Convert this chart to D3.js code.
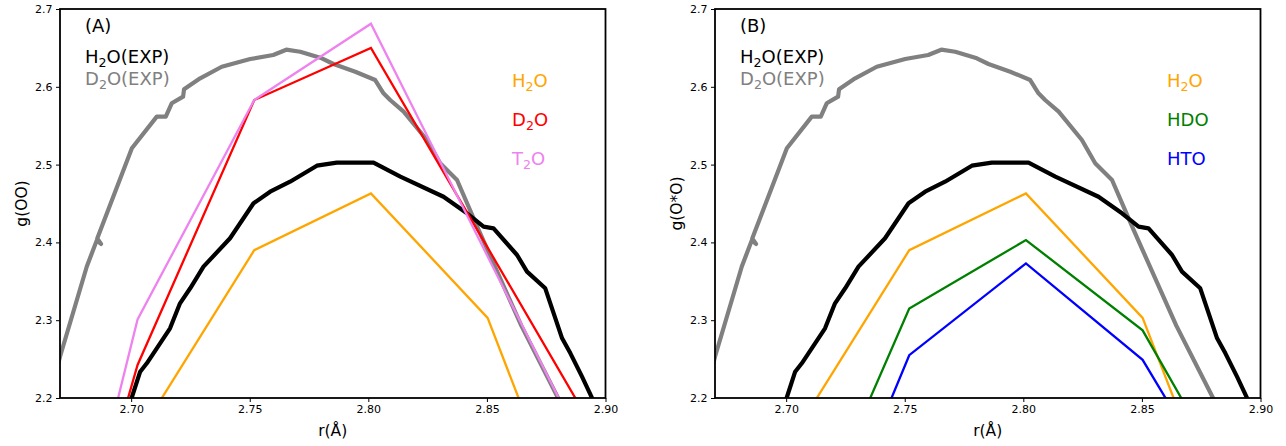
<!DOCTYPE html>
<html>
<head>
<meta charset="utf-8">
<script src="https://cdn.jsdelivr.net/npm/d3@7"></script>
<style>
  body { margin: 0; background: #fff; }
  svg { display: block; }
  text { font-family: "DejaVu Sans", sans-serif; }
</style>
</head>
<body>
<svg id="chart" width="1286" height="446"></svg>
<script>
// Experimental O–O radial distribution near the first peak
const rH2OExp = [2.6995, 2.7002, 2.7038, 2.7066, 2.7122, 2.7164, 2.7206, 2.7249, 2.7305, 2.7417,
                 2.7516, 2.7586, 2.7670, 2.7783, 2.7867, 2.8022, 2.8135, 2.8317,
                 2.8416, 2.8486, 2.8528, 2.8627, 2.8669, 2.8746, 2.8817, 2.8852, 2.8901, 2.8944, 2.8950];
const gH2OExp = [2.190, 2.200, 2.2338, 2.2446, 2.2703, 2.2896, 2.3217, 2.3410, 2.3688, 2.4053,
                 2.4503, 2.4652, 2.4780, 2.4986, 2.5025, 2.5025, 2.4845, 2.4587,
                 2.4374, 2.4202, 2.4181, 2.3838, 2.3624, 2.3410, 2.2767, 2.2574, 2.2274, 2.1996, 2.190];

const rD2OExp = [2.6680, 2.6700, 2.6813, 2.6855, 2.6873, 2.6857, 2.7003, 2.7108, 2.7146,
                 2.7171, 2.7219, 2.7223, 2.7291, 2.7382, 2.7502, 2.7599, 2.7654, 2.7713, 2.7804,
                 2.7853, 2.7945, 2.8029, 2.8064, 2.8092, 2.8149, 2.8247, 2.8303, 2.8374, 2.8465,
                 2.8645, 2.8800, 2.8820];
const gD2OExp = [2.230, 2.253, 2.369, 2.4026, 2.398, 2.405, 2.521, 2.5616, 2.5616,
                 2.5788, 2.5873, 2.5968, 2.6109, 2.6258, 2.6357, 2.6409, 2.6477, 2.6451, 2.6366,
                 2.6293, 2.6194, 2.6087, 2.5916, 2.5830, 2.5680, 2.5316, 2.5017, 2.4802, 2.4160,
                 2.2930, 2.2000, 2.1880];

// Simulated curves, sampled on a common r grid
const rModel = [2.6535, 2.7027, 2.7519, 2.8011, 2.8503, 2.8995];
const gH2O = [null, 2.150, 2.390, 2.463, 2.303, 1.915];
const gD2O = [1.720, 2.2424, 2.583, 2.650, 2.3933, 2.136];
const gT2O = [1.695, 2.301, 2.583, 2.681, 2.382, 2.083];
const gHDO = [null, 1.971, 2.315, 2.403, 2.287, 2.024];
const gHTO = [null, 1.893, 2.255, 2.373, 2.249, 1.999];

const xTicks = [2.70, 2.75, 2.80, 2.85, 2.90];
const yTicks = [2.2, 2.3, 2.4, 2.5, 2.6, 2.7];

const panels = [
  { tag: "(A)", left: 60, ylabel: "g(OO)",
    models: [
      { name: ["H", "2", "O"], values: gH2O, color: "#FFA500" },
      { name: ["D", "2", "O"], values: gD2O, color: "#FF0000" },
      { name: ["T", "2", "O"], values: gT2O, color: "#EE82EE" }
    ] },
  { tag: "(B)", left: 715, ylabel: "g(O*O)",
    models: [
      { name: ["H", "2", "O"], values: gH2O, color: "#FFA500" },
      { name: ["HDO"], values: gHDO, color: "#008000" },
      { name: ["HTO"], values: gHTO, color: "#0000FF" }
    ] }
];

const plotW = 545.5, plotTop = 9, plotBottom = 398;
const svg = d3.select("#chart");

// writes a label such as H₂O with a lowered, smaller "2"
function chemText(sel, parts) {
  parts.forEach((p, i) => {
    if (p === "2" && parts.length > 1) {
      sel.append("tspan").attr("font-size", "0.7em").attr("dy", 4).text(p);
    } else {
      const t = sel.append("tspan").text(p);
      if (i > 0 && parts[i - 1] === "2") t.attr("dy", -4);
    }
  });
}

panels.forEach((P, pi) => {
  const x = d3.scaleLinear().domain([2.67, 2.90]).range([P.left, P.left + plotW]);
  const y = d3.scaleLinear().domain([2.2, 2.7]).range([plotBottom, plotTop]);
  const g = svg.append("g");

  const clipId = "clip" + pi;
  g.append("clipPath").attr("id", clipId)
    .append("rect").attr("x", P.left).attr("y", plotTop).attr("width", plotW).attr("height", plotBottom - plotTop);

  const plot = g.append("g").attr("clip-path", `url(#${clipId})`);
  const line = d3.line().defined(d => d[1] !== null).x(d => x(d[0])).y(d => y(d[1]));

  plot.append("path")
    .attr("d", line(rD2OExp.map((r, i) => [r, gD2OExp[i]])))
    .attr("fill", "none").attr("stroke", "#808080").attr("stroke-width", 4.2)
    .attr("stroke-linejoin", "round");
  plot.append("path")
    .attr("d", line(rH2OExp.map((r, i) => [r, gH2OExp[i]])))
    .attr("fill", "none").attr("stroke", "#000").attr("stroke-width", 4.2)
    .attr("stroke-linejoin", "round");

  P.models.forEach(m => {
    plot.append("path")
      .attr("d", line(rModel.map((r, i) => [r, m.values[i]])))
      .attr("fill", "none").attr("stroke", m.color).attr("stroke-width", 2.3)
      .attr("stroke-linejoin", "miter");
  });

  // axes
  const xAxis = g.append("g").attr("transform", `translate(0,${plotBottom})`)
    .call(d3.axisBottom(x).tickValues(xTicks).tickFormat(d3.format(".2f")).tickSize(4).tickPadding(3.5));
  const yAxis = g.append("g").attr("transform", `translate(${P.left},0)`)
    .call(d3.axisLeft(y).tickValues(yTicks).tickFormat(d3.format(".1f")).tickSize(4).tickPadding(3.5));
  [xAxis, yAxis].forEach(a => {
    a.select(".domain").remove();
    a.selectAll("line").attr("stroke", "#000").attr("stroke-width", 1);
    a.selectAll("text").attr("font-size", 11).attr("font-family", "DejaVu Sans").attr("fill", "#000");
  });

  g.append("rect").attr("x", P.left).attr("y", plotTop).attr("width", plotW).attr("height", plotBottom - plotTop)
    .attr("fill", "none").attr("stroke", "#000").attr("stroke-width", 1.8);

  // axis titles
  g.append("text").attr("x", P.left + plotW / 2).attr("y", 436).attr("text-anchor", "middle")
    .attr("font-size", 15.5).text("r(Å)");
  g.append("text").attr("transform", `translate(${P.left - 33},${(plotTop + plotBottom) / 2}) rotate(-90)`)
    .attr("text-anchor", "middle").attr("font-size", 15.5).text(P.ylabel);

  // annotations
  const lx = P.left + 25;
  g.append("text").attr("x", lx).attr("y", 32).attr("font-size", 18).text(P.tag);
  chemText(g.append("text").attr("x", lx).attr("y", 63).attr("font-size", 18).attr("fill", "#000"),
           ["H", "2", "O(EXP)"]);
  chemText(g.append("text").attr("x", lx).attr("y", 85).attr("font-size", 18).attr("fill", "#808080"),
           ["D", "2", "O(EXP)"]);

  const rx = P.left + 452;
  P.models.forEach((m, i) => {
    chemText(g.append("text").attr("x", rx).attr("y", 87 + i * 39).attr("font-size", 18).attr("fill", m.color),
             m.name);
  });
});
</script>
</body>
</html>
